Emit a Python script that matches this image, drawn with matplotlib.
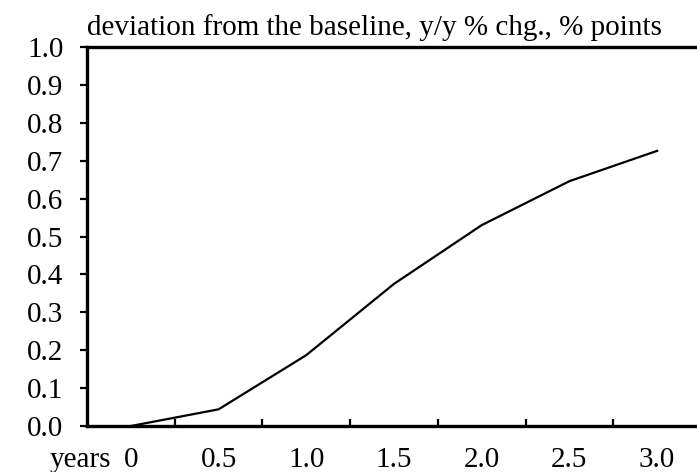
import numpy as np
import matplotlib
matplotlib.use('Agg')
import matplotlib.pyplot as plt

plt.rcParams['font.family'] = ['Liberation Serif', 'DejaVu Serif']

years = ['0', '0.5', '1.0', '1.5', '2.0', '2.5', '3.0']
deviation = [0.0, 0.044, 0.187, 0.375, 0.53, 0.646, 0.726]

fs = 21

fig = plt.figure(figsize=(6.97, 4.72), dpi=100)
ax = fig.add_axes([87 / 697, 46 / 472, 614 / 697, 379 / 472])

x = np.arange(len(years))
ax.plot(x, deviation, color='black', linewidth=1.6, clip_on=False)

ax.set_xlim(-0.5, len(years) - 0.5)
ax.set_ylim(0.0, 1.0)

ax.set_yticks(np.arange(0, 1.01, 0.1))
ax.set_yticklabels(['{:.1f}'.format(v) for v in np.arange(0, 1.01, 0.1)])
ax.set_xticks(x)
ax.set_xticklabels(years)
ax.set_xticks(np.arange(0.5, len(years) - 0.5, 1), minor=True)

ax.tick_params(axis='y', direction='out', length=5, width=1.6, pad=12, labelsize=fs)
ax.tick_params(axis='x', which='major', length=0, pad=15, labelsize=fs)
ax.tick_params(axis='x', which='minor', direction='in', length=5, width=1.6)

for s in ['left', 'bottom', 'top']:
    ax.spines[s].set_linewidth(2.4)
ax.spines['right'].set_visible(False)

ax.annotate('years', xy=(-0.22, 0), xycoords=('data', 'axes fraction'),
            xytext=(0, -15), textcoords='offset points',
            ha='right', va='top', fontsize=fs)

ax.set_title('deviation from the baseline, y/y % chg., % points',
             loc='left', pad=9, fontsize=fs)

plt.savefig('out.png', dpi=100)
